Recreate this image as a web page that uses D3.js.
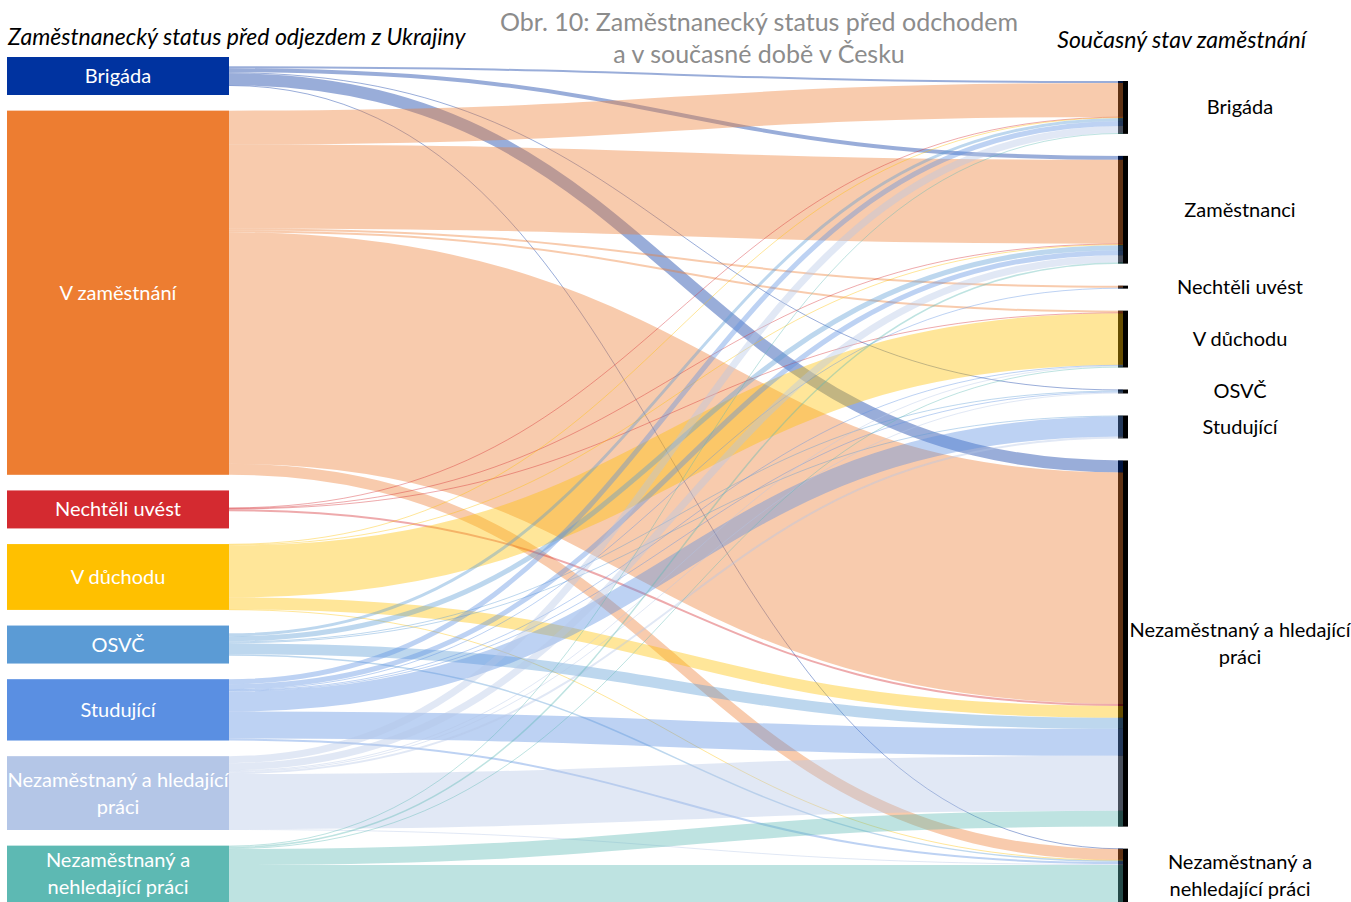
<!DOCTYPE html>
<html>
<head>
<meta charset="utf-8">
<script src="https://cdn.jsdelivr.net/npm/d3@7"></script>
<style>
  body { margin: 0; background: #fff; }
  svg { display: block; font-family: Lato, "Open Sans", sans-serif; }
</style>
</head>
<body>
<svg id="chart" width="1351" height="902"></svg>
<script>
// categories before leaving (left) and now (right)
var leftNames = [
    ['Brigáda'],
    ['V zaměstnání'],
    ['Nechtěli uvést'],
    ['V důchodu'],
    ['OSVČ'],
    ['Studující'],
    ['Nezaměstnaný a hledající', 'práci'],
    ['Nezaměstnaný a', 'nehledající práci']
];
var rightNames = [
    ['Brigáda'],
    ['Zaměstnanci'],
    ['Nechtěli uvést'],
    ['V důchodu'],
    ['OSVČ'],
    ['Studující'],
    ['Nezaměstnaný a hledající', 'práci'],
    ['Nezaměstnaný a', 'nehledající práci']
];
var leftColors = ['#0033a0', '#ed7d31', '#d42a30', '#ffc000', '#5b9bd5', '#5a8fe2', '#b4c6e7', '#5db9b3'];

// flows: one row per left category, one column per right category
var flows = [
    [2,   4,   0, 0,   1, 0,  12,  0.5],
    [34,  84,  2, 2,   0, 0,  232, 11],
    [0.5, 0.5, 0, 0.5, 0, 0,  2,   0],
    [0.5, 1,   0, 52,  0, 0,  12,  0.5],
    [3,   5,   0, 0,   1, 1,  11,  1.5],
    [5,   5,   1, 0.5, 1, 20, 27,  2],
    [7,   7,   0, 1,   1, 2,  55,  1],
    [1,   1.5, 0, 1,   0, 0,  16,  37]
];

var titleLines = ['Obr. 10: Zaměstnanecký status před odchodem', 'a v současné době v Česku'];
var leftHeader = 'Zaměstnanecký status před odjezdem z Ukrajiny';
var rightHeader = 'Současný stav zaměstnání';

// layout
var width = 1351, height = 902;
var leftX0 = 7, leftX1 = 229;
var rightX0 = 1118, rightX1 = 1128, linkEnd = 1123;
var leftTop = 57, rightTop = 81, bottom = 902;
var rightGap = 22, minBox = 38;

var svg = d3.select('#chart');

var leftSums = flows.map(function(row){ return d3.sum(row); });
var rightSums = rightNames.map(function(_, j){ return d3.sum(flows, function(row){ return row[j]; }); });
var total = d3.sum(rightSums);

// value -> pixels, same for both sides
var w = d3.scaleLinear()
    .domain([0, total])
    .range([0, bottom - rightTop - rightGap * (rightNames.length - 1)]);

// right nodes
var rightNodes = [];
var y = rightTop;
rightSums.forEach(function(v, j){
    rightNodes.push({y0: y, y1: y + w(v), name: rightNames[j]});
    y += w(v) + rightGap;
});

// left nodes: box at least minBox high, bundle centered in it
var boxH = leftSums.map(function(v){ return Math.max(w(v), minBox); });
var leftGap = (bottom - leftTop - d3.sum(boxH)) / (leftNames.length - 1);
var leftNodes = [];
y = leftTop;
leftSums.forEach(function(v, i){
    var node = {y0: y, y1: y + boxH[i], name: leftNames[i], color: leftColors[i]};
    node.start = y + (boxH[i] - w(v)) / 2;
    leftNodes.push(node);
    y += boxH[i] + leftGap;
});

// links, stacked by target at the source and by source at the target
var links = [];
var srcOffset = leftNodes.map(function(n){ return n.start; });
var tgtOffset = rightNodes.map(function(n){ return n.y0; });
for(var i = 0; i < flows.length; i++){
    for(var j = 0; j < flows[i].length; j++){
        var v = flows[i][j];
        if(!v){ continue; }
        links.push({source: i, target: j, value: v, ys: srcOffset[i] + w(v) / 2});
        srcOffset[i] += w(v);
    }
}
for(var j = 0; j < rightNodes.length; j++){
    links.forEach(function(l){
        if(l.target == j){
            l.yt = tgtOffset[j] + w(l.value) / 2;
            tgtOffset[j] += w(l.value);
        }
    });
}

// right bars under the links
svg.append('g').selectAll('rect')
    .data(rightNodes)
    .enter().append('rect')
        .attr('x', rightX0)
        .attr('y', function(d){ return d.y0; })
        .attr('width', rightX1 - rightX0)
        .attr('height', function(d){ return Math.max(d.y1 - d.y0, 3); })
        .attr('fill', '#000');

var xm = (leftX1 + linkEnd) / 2;
svg.append('g').attr('fill', 'none').selectAll('path')
    .data(links)
    .enter().append('path')
        .attr('d', function(d){
            return 'M' + leftX1 + ',' + d.ys + 'C' + xm + ',' + d.ys + ' ' + xm + ',' + d.yt + ' ' + linkEnd + ',' + d.yt;
        })
        .attr('stroke', function(d){ return leftColors[d.source]; })
        .attr('stroke-opacity', 0.4)
        .attr('stroke-width', function(d){ return Math.max(w(d.value), 1); });

// left boxes
svg.append('g').selectAll('rect')
    .data(leftNodes)
    .enter().append('rect')
        .attr('x', leftX0)
        .attr('y', function(d){ return d.y0; })
        .attr('width', leftX1 - leftX0)
        .attr('height', function(d){ return d.y1 - d.y0; })
        .attr('fill', function(d){ return d.color; });

function addLabel(g, x, d, color){
    var lineH = 27;
    var cy = (d.y0 + d.y1) / 2;
    var text = g.append('text')
        .attr('x', x)
        .attr('text-anchor', 'middle')
        .attr('fill', color)
        .style('font-size', '20px');
    d.name.forEach(function(line, k){
        text.append('tspan')
            .attr('x', x)
            .attr('y', cy + (k - (d.name.length - 1) / 2) * lineH + 7)
            .text(line);
    });
}

var leftLabels = svg.append('g');
leftNodes.forEach(function(d){ addLabel(leftLabels, (leftX0 + leftX1) / 2, d, '#fff'); });
var rightLabels = svg.append('g');
rightNodes.forEach(function(d){ addLabel(rightLabels, 1240, d, '#000'); });

// headers and title
svg.append('text')
    .attr('x', 8).attr('y', 45)
    .style('font-size', '23px').style('font-style', 'italic')
    .text(leftHeader);
svg.append('text')
    .attr('x', 1306).attr('y', 48)
    .attr('text-anchor', 'end')
    .style('font-size', '23px').style('font-style', 'italic')
    .text(rightHeader);
svg.append('g').selectAll('text')
    .data(titleLines)
    .enter().append('text')
        .attr('x', 759)
        .attr('y', function(d, i){ return 31 + i * 32; })
        .attr('text-anchor', 'middle')
        .attr('fill', '#8c8c8c')
        .style('font-size', '25px')
        .text(function(d){ return d; });
</script>
</body>
</html>
